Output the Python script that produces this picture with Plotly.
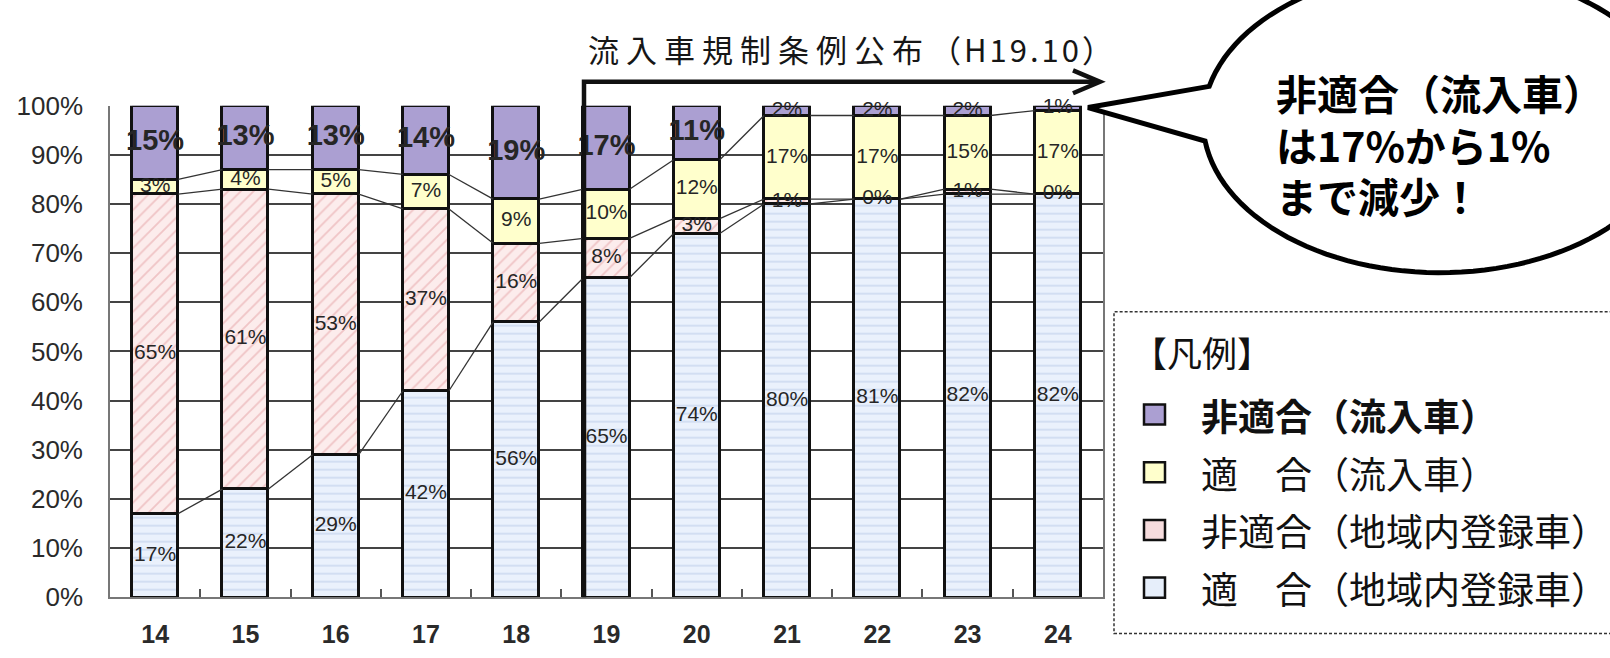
import math
import plotly.graph_objects as go

W, H = 1610, 658

# ---- data -------------------------------------------------------------
years = ["14", "15", "16", "17", "18", "19", "20", "21", "22", "23", "24"]
local_ok = [17, 22, 29, 42, 56, 65, 74, 80, 81, 82, 82]    # 適合（地域内登録車）
local_ng = [65, 61, 53, 37, 16, 8, 3, 1, 0, 1, 0]          # 非適合（地域内登録車）
inflow_ok = [3, 4, 5, 7, 9, 10, 12, 17, 17, 15, 17]        # 適合（流入車）
inflow_ng = [15, 13, 13, 14, 19, 17, 11, 2, 2, 2, 1]       # 非適合（流入車）

name_local_ok = "適　合（地域内登録車）"
name_local_ng = "非適合（地域内登録車）"
name_inflow_ok = "適　合（流入車）"
name_inflow_ng = "非適合（流入車）"

y_ticks = [0, 10, 20, 30, 40, 50, 60, 70, 80, 90, 100]
y_tick_labels = ["0%", "10%", "20%", "30%", "40%", "50%", "60%", "70%", "80%", "90%", "100%"]

event_main = "流入車規制条例公布"
event_date = "（H19.10）"
callout_lines = ["非適合（流入車）", "は17%から1%", "まで減少！"]
legend_title = "【凡例】"

# ---- styling ----------------------------------------------------------
JP = "Noto Sans CJK JP"
LAT = "Liberation Sans, Arial, sans-serif"
BAR_W = 0.51


def px(x):
    return x / W


def py(y):
    return 1 - y / H


series = [
    (name_local_ok, local_ok, dict(color="#eaf1fc",
                                   pattern=dict(shape="-", fgcolor="#9fb4dc", size=8, solidity=0.16))),
    (name_local_ng, local_ng, dict(color="#fcecec",
                                   pattern=dict(shape="/", fgcolor="#e39c9f", size=9, solidity=0.2))),
    (name_inflow_ok, inflow_ok, dict(color="#ffffcc")),
    (name_inflow_ng, inflow_ng, dict(color="#ab9fd2")),
]

xs = list(range(len(years)))
fig = go.Figure()

for name, vals, mk in series:
    mk = dict(mk)
    mk["line"] = dict(color="#111111", width=2.6)
    fig.add_trace(go.Bar(x=xs, y=vals, name=name, width=BAR_W, marker=mk,
                         hoverinfo="skip"))

# cumulative tops of each stacked segment
tops = []
run = [0] * len(years)
for _, vals, _ in series:
    run = [r + v for r, v in zip(run, vals)]
    tops.append(list(run))

# series lines joining segment tops between neighbouring bars
lx, ly = [], []
for level in tops[:3]:
    for i in range(len(years) - 1):
        lx += [i + BAR_W / 2, i + 1 - BAR_W / 2, None]
        ly += [level[i], level[i + 1], None]
fig.add_trace(go.Scatter(x=lx, y=ly, mode="lines", line=dict(color="#333333", width=1.3),
                         hoverinfo="skip"))

# percentage labels centred in each segment
base = [0] * len(years)
for k, (name, vals, _) in enumerate(series):
    mids = [b + v / 2 for b, v in zip(base, vals)]
    big = [k == 3 and v >= 5 for v in vals]
    fig.add_trace(go.Scatter(
        x=xs, y=mids, mode="text",
        text=[f"<b>{v}%</b>" if b_ else f"{v}%" for v, b_ in zip(vals, big)],
        textposition="middle center",
        textfont=dict(family=LAT, size=[29 if b_ else 21 for b_ in big], color="#262626"),
        cliponaxis=False, hoverinfo="skip"))
    base = [b + v for b, v in zip(base, vals)]

shapes = []

# regulation arrow from the H19 bar
shapes.append(dict(type="path", xref="paper", yref="paper", layer="above",
                   path=f"M {px(584)},{py(610)} L {px(584)},{py(70)} L {px(1097)},{py(70)}",
                   line=dict(color="#111111", width=4.5)))
shapes.append(dict(type="path", xref="paper", yref="paper", layer="above",
                   path=f"M {px(1073)},{py(58)} L {px(1100)},{py(70)} L {px(1073)},{py(82)}",
                   line=dict(color="#111111", width=4.5)))

# speech balloon
cx, cy, ea, eb = 1440, 111, 237, 159
t0 = math.atan2((76 - cy) / eb, (1217 - cx) / ea) % (2 * math.pi)
t1 = math.atan2((132 - cy) / eb, (1205 - cx) / ea) % (2 * math.pi) + 2 * math.pi
n = 120
pts = []
for j in range(n + 1):
    t = t0 + (t1 - t0) * j / n
    pts.append((cx + ea * math.cos(t), cy + eb * math.sin(t)))
pts.append((1088, 97))
path = "M " + " L ".join(f"{px(x)},{py(y)}" for x, y in pts) + " Z"
shapes.append(dict(type="path", xref="paper", yref="paper", layer="above", path=path,
                   fillcolor="white", line=dict(color="#000000", width=5)))

# legend frame
shapes.append(dict(type="rect", xref="paper", yref="paper", layer="above",
                   x0=px(1114), x1=px(1650), y0=py(648), y1=py(311),
                   line=dict(color="#333333", width=1.5, dash="3px,2px")))

annotations = []
annotations.append(dict(
    xref="paper", yref="paper", x=px(586), y=py(35), xanchor="left", yanchor="middle",
    text=(f'<span style="letter-spacing:7px">{event_main}</span>'
          f'<span style="letter-spacing:3px">{event_date}</span>'),
    showarrow=False, font=dict(family=JP, size=31, color="#161616")))

for yline, line in zip([81, 135, 189], callout_lines):
    annotations.append(dict(
        xref="paper", yref="paper", x=px(1274), y=py(yline), xanchor="left", yanchor="middle",
        text=f"<b>{line}</b>", showarrow=False,
        font=dict(family=JP, size=41, color="#000000")))

annotations.append(dict(
    xref="paper", yref="paper", x=px(1130), y=py(353), xanchor="left", yanchor="middle",
    text=legend_title, showarrow=False, font=dict(family=JP, size=35, color="#111111")))

legend_rows = [
    (name_inflow_ng, "#ab9fd2", True),
    (name_inflow_ok, "#ffffcc", False),
    (name_local_ng, "#f6dcdd", False),
    (name_local_ok, "#e6eefa", False),
]
for r, (name, col, bold) in enumerate(legend_rows):
    yc = 419 + r * 60.5
    shapes.append(dict(type="rect", xref="paper", yref="paper", layer="above",
                       x0=px(1144), x1=px(1165), y0=py(yc + 10), y1=py(yc - 11),
                       fillcolor=col, line=dict(color="#111111", width=2.5)))
    annotations.append(dict(
        xref="paper", yref="paper", x=px(1199), y=py(yc), xanchor="left", yanchor="middle",
        text=f"<b>{name}</b>" if bold else name, showarrow=False,
        font=dict(family=JP, size=37, color="#111111")))

fig.update_layout(
    width=W, height=H, margin=dict(l=0, r=0, t=0, b=0),
    paper_bgcolor="white", plot_bgcolor="white",
    barmode="stack", bargap=0, showlegend=False,
    shapes=shapes, annotations=annotations,
    xaxis=dict(domain=[px(110), px(1103)], range=[-0.5, len(years) - 0.5],
               tickvals=xs, ticktext=years, ticks="", showgrid=False, zeroline=False,
               showline=True, linecolor="#777777", linewidth=2, mirror=False,
               tickfont=dict(family=LAT, size=25, color="#2a2a2a", weight="bold"),
               ticklabelstandoff=14,
               minor=dict(tickvals=[i + 0.5 for i in range(len(years) - 1)], ticks="inside",
                          ticklen=8, tickwidth=2, tickcolor="#555555", showgrid=False)),
    yaxis=dict(domain=[py(610), py(95)], range=[0, 100], tickvals=y_ticks, ticktext=y_tick_labels,
               showgrid=True, gridcolor="#444444", gridwidth=1.6, zeroline=False,
               showline=True, linecolor="#777777", linewidth=1.6, mirror=True,
               ticks="", ticklabelstandoff=20,
               tickfont=dict(family=LAT, size=26, color="#2a2a2a")),
)

fig.write_html("out.html")
